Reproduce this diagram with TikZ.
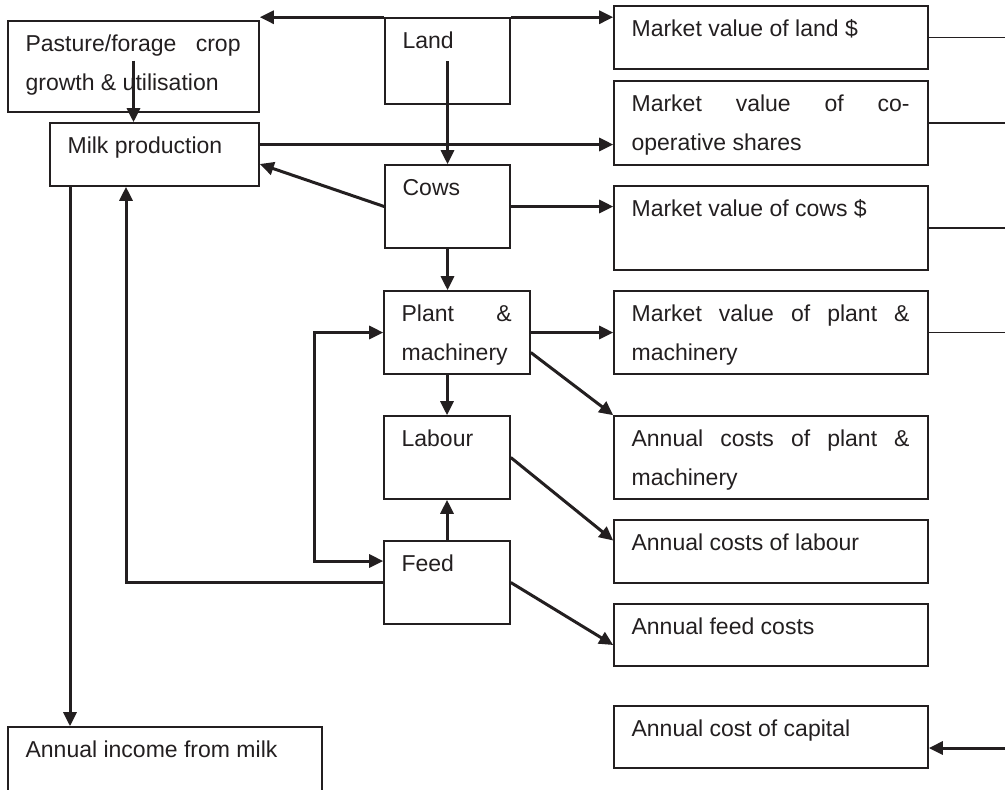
\documentclass[tikz,border=0pt]{standalone}
\usepackage{fontspec}
\setmainfont{Liberation Sans}
\usetikzlibrary{arrows.meta,fit,positioning}
\definecolor{ink}{RGB}{35,31,32}
\tikzset{
    box/.style={draw=ink, line width=0.8pt, inner sep=0pt},
    txt/.style={anchor=base west, inner sep=0pt, align=justify, text width=#1,
        text=ink, font=\fontsize{11.5}{19.5}\selectfont},
    txt/.default=139pt,
    arr/.style={draw=ink, line width=1.5pt, -{Triangle[length=7pt,width=6.5pt]}},
    arrs/.style={draw=ink, line width=1.5pt, {Triangle[length=7pt,width=6.5pt]}-{Triangle[length=7pt,width=6.5pt]}},
    rule/.style={draw=ink, line width=0.6pt}
}
\begin{document}
\begin{tikzpicture}[x=0.5pt, y=-0.5pt]
    \useasboundingbox (0,0) rectangle (1005,789);
    \coordinate (rim) at (1005,0);
    % left column
    \node[box, fit={(8,21) (259,112)}] (pasture) {};
    \node[box, fit={(50,123) (259,186)}] (milk) {};
    \node[box, fit={(8,727) (322,792)}] (income) {};
    % middle column
    \node[box, fit={(385,18) (510,104)}] (land) {};
    \node[box, fit={(385,165) (510,248)}] (cows) {};
    \node[box, fit={(384,291) (530,374)}] (plant) {};
    \node[box, fit={(384,416) (510,499)}] (labour) {};
    \node[box, fit={(384,541) (510,624)}] (feed) {};
    % right column
    \node[box, fit={(614,6) (928,69)}] (mland) {};
    \node[box, fit={(614,81) (928,165)}] (mshares) {};
    \node[box, fit={(614,186) (928,270)}] (mcows) {};
    \node[box, fit={(614,291) (928,374)}] (mplant) {};
    \node[box, fit={(614,416) (928,499)}] (cplant) {};
    \node[box, fit={(614,520) (928,583)}] (clabour) {};
    \node[box, fit={(614,604) (928,666)}] (cfeed) {};
    \node[box, fit={(614,706) (928,768)}] (capital) {};

    % texts
    \node[txt=107.5pt] (tpasture) at ([xshift=9pt,yshift=-15.5pt]pasture.north west) {Pasture/forage crop\linebreak growth \& utilisation};
    \node[txt] (tmilk) at ([xshift=9pt,yshift=-15.5pt]milk.north west) {Milk production};
    \node[txt] (tincome) at ([xshift=9pt,yshift=-15.5pt]income.north west) {Annual income from milk};
    \node[txt] (tland) at ([xshift=9pt,yshift=-15.5pt]land.north west) {Land};
    \node[txt] (tcows) at ([xshift=9pt,yshift=-15.5pt]cows.north west) {Cows};
    \node[txt=55pt] (tplant) at ([xshift=9pt,yshift=-15.5pt]plant.north west) {Plant \&\linebreak machinery};
    \node[txt] (tlabour) at ([xshift=9pt,yshift=-15.5pt]labour.north west) {Labour};
    \node[txt] (tfeed) at ([xshift=9pt,yshift=-15.5pt]feed.north west) {Feed};
    \node[txt] (tmland) at ([xshift=9pt,yshift=-15.5pt]mland.north west) {Market value of land \$};
    \node[txt] (tmshares) at ([xshift=9pt,yshift=-15.5pt]mshares.north west) {Market value of co-\linebreak operative shares};
    \node[txt] (tmcows) at ([xshift=9pt,yshift=-15.5pt]mcows.north west) {Market value of cows \$};
    \node[txt] (tmplant) at ([xshift=9pt,yshift=-15.5pt]mplant.north west) {Market value of plant \&\linebreak machinery};
    \node[txt] (tcplant) at ([xshift=9pt,yshift=-15.5pt]cplant.north west) {Annual costs of plant \&\linebreak machinery};
    \node[txt] (tclabour) at ([xshift=9pt,yshift=-15.5pt]clabour.north west) {Annual costs of labour};
    \node[txt] (tcfeed) at ([xshift=9pt,yshift=-15.5pt]cfeed.north west) {Annual feed costs};
    \node[txt] (tcapital) at ([xshift=9pt,yshift=-15.5pt]capital.north west) {Annual cost of capital};

    % connectors
    \draw[arr] (land.north west) -- (land.north west -| pasture.east);
    \draw[arr] (land.north east) -- (land.north east -| mland.west);
    \draw[arr] (land.center) -- (cows.north);
    \draw[arr] ([yshift=3pt]pasture.center) coordinate (p1) -- (p1 |- milk.north);
    \draw[arr] ([yshift=5pt]milk.east) coordinate (m1) -- (m1 -| mshares.west);
    \draw[arr] (cows.west) -- ([yshift=-4.75pt]milk.east);
    \draw[arr] (cows.east) -- (cows.east -| mcows.west);
    \draw[arr] (cows.south) -- (cows.south |- plant.north);
    \draw[arr] (plant.east) -- (mplant.west);
    \draw[arr] ([yshift=-10pt]plant.east) -- (cplant.north west);
    \draw[arr] (labour.north |- plant.south) -- (labour.north);
    \draw[arr] (feed.north) -- (labour.south);
    \draw[arr] (labour.east) -- ([yshift=5.5pt]clabour.west);
    \draw[arr] (feed.east) -- ([yshift=-5pt]cfeed.west);
    \draw[arrs] (plant.west) -- ++(-69,0) |- ([yshift=10.75pt]feed.west);
    \draw[arr] (feed.west) -| ([xshift=-14.25pt]milk.south);
    \draw[arr] ([xshift=-42.25pt]milk.south) coordinate (m2) -- (m2 |- income.north);
    \foreach \b in {mland,mshares,mcows,mplant}
        \draw[rule] (\b.east) -- (\b.east -| rim);
    \coordinate (c1) at ([yshift=-5.5pt]capital.east);
    \draw[arr] (c1 -| rim) -- (c1);
\end{tikzpicture}
\end{document}
